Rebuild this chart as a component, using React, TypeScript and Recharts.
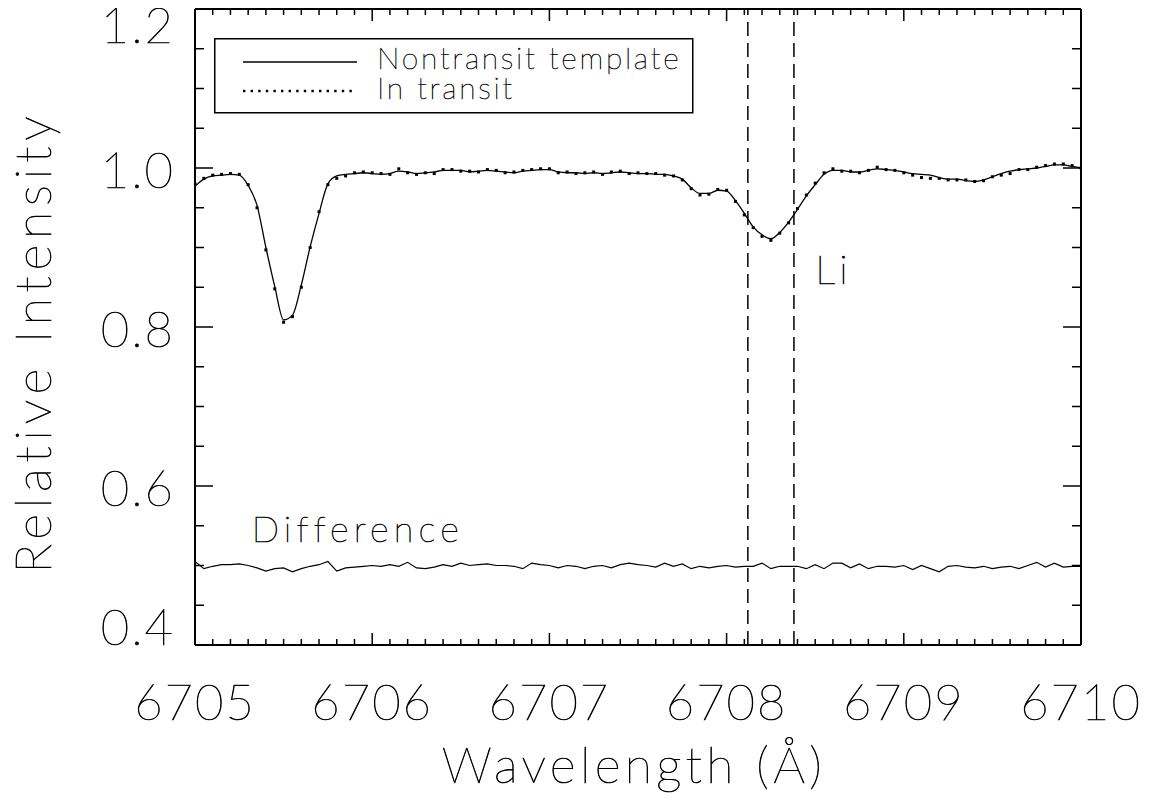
import {
  ComposedChart,
  Line,
  XAxis,
  YAxis,
  ReferenceLine,
  ReferenceDot,
  Legend,
  Label,
} from "recharts";

// wavelength grid (Angstrom)
const wavelength = [
  6705.0, 6705.05, 6705.1, 6705.15, 6705.2, 6705.25, 6705.3, 6705.35, 6705.4, 6705.45,
  6705.5, 6705.55, 6705.6, 6705.65, 6705.7, 6705.75, 6705.8, 6705.85, 6705.9, 6705.95,
  6706.0, 6706.05, 6706.1, 6706.15, 6706.2, 6706.25, 6706.3, 6706.35, 6706.4, 6706.45,
  6706.5, 6706.55, 6706.6, 6706.65, 6706.7, 6706.75, 6706.8, 6706.85, 6706.9, 6706.95,
  6707.0, 6707.05, 6707.1, 6707.15, 6707.2, 6707.25, 6707.3, 6707.35, 6707.4, 6707.45,
  6707.5, 6707.55, 6707.6, 6707.65, 6707.7, 6707.75, 6707.8, 6707.85, 6707.9, 6707.95,
  6708.0, 6708.05, 6708.1, 6708.15, 6708.2, 6708.25, 6708.3, 6708.35, 6708.4, 6708.45,
  6708.5, 6708.55, 6708.6, 6708.65, 6708.7, 6708.75, 6708.8, 6708.85, 6708.9, 6708.95,
  6709.0, 6709.05, 6709.1, 6709.15, 6709.2, 6709.25, 6709.3, 6709.35, 6709.4, 6709.45,
  6709.5, 6709.55, 6709.6, 6709.65, 6709.7, 6709.75, 6709.8, 6709.85, 6709.9, 6709.95,
  6710.0,
];

// nontransit template (solid)
const template = [
  0.977, 0.986, 0.99, 0.991, 0.992, 0.991, 0.978, 0.953, 0.9, 0.851,
  0.809, 0.815, 0.853, 0.901, 0.943, 0.98, 0.99, 0.992, 0.993, 0.994,
  0.993, 0.992, 0.993, 0.996, 0.995, 0.993, 0.994, 0.995, 0.997, 0.997,
  0.997, 0.995, 0.996, 0.997, 0.996, 0.995, 0.994, 0.996, 0.997, 0.998,
  0.998, 0.995, 0.994, 0.994, 0.993, 0.994, 0.993, 0.994, 0.995, 0.994,
  0.993, 0.993, 0.992, 0.992, 0.99, 0.986, 0.975, 0.968, 0.968, 0.972,
  0.971, 0.959, 0.943, 0.926, 0.916, 0.911, 0.919, 0.932, 0.948, 0.965,
  0.979, 0.992, 0.997, 0.997, 0.995, 0.995, 0.997, 0.999, 0.998, 0.997,
  0.995, 0.993, 0.992, 0.991, 0.988, 0.986, 0.986, 0.984, 0.983, 0.985,
  0.989, 0.993, 0.996, 0.998, 0.999, 1.0, 1.002, 1.004, 1.004, 1.002,
  1.0,
];

// in transit (dotted)
const inTransit = [
  0.98, 0.987, 0.991, 0.992, 0.993, 0.992, 0.979, 0.95, 0.897, 0.848,
  0.806, 0.813, 0.85, 0.9, 0.945, 0.979, 0.987, 0.99, 0.994, 0.995,
  0.994, 0.993, 0.992, 0.999, 0.994, 0.992, 0.994, 0.993, 0.998, 0.998,
  0.996, 0.996, 0.995, 0.998, 0.997, 0.994, 0.995, 0.997, 0.998, 0.999,
  0.999, 0.994, 0.995, 0.993, 0.994, 0.995, 0.992, 0.995, 0.996, 0.993,
  0.994, 0.993, 0.993, 0.991, 0.99, 0.985, 0.974, 0.966, 0.967, 0.973,
  0.972, 0.958, 0.941, 0.925, 0.914, 0.909, 0.918, 0.931, 0.949, 0.966,
  0.981, 0.994, 0.999, 0.996, 0.996, 0.994, 0.997, 1.001, 0.998, 0.997,
  0.994, 0.991, 0.988, 0.987, 0.987, 0.985, 0.985, 0.985, 0.983, 0.984,
  0.989, 0.991, 0.993, 0.998, 0.998, 1.001, 1.003, 1.005, 1.005, 1.003,
  1.0,
];

// difference, offset to 0.5
const difference = [
  0.505, 0.496, 0.499, 0.501, 0.501, 0.502, 0.5, 0.497, 0.493, 0.496,
  0.497, 0.492, 0.496, 0.499, 0.501, 0.505, 0.493, 0.497, 0.498, 0.499,
  0.5, 0.499, 0.501, 0.499, 0.504, 0.497, 0.496, 0.498, 0.501, 0.499,
  0.503, 0.5, 0.501, 0.502, 0.5, 0.5, 0.499, 0.496, 0.503, 0.501,
  0.5, 0.497, 0.5, 0.499, 0.496, 0.499, 0.5, 0.497, 0.501, 0.503,
  0.501, 0.5, 0.498, 0.503, 0.499, 0.502, 0.496, 0.499, 0.497, 0.499,
  0.5, 0.498, 0.499, 0.499, 0.503, 0.496, 0.499, 0.499, 0.499, 0.496,
  0.501, 0.496, 0.503, 0.503, 0.497, 0.502, 0.496, 0.499, 0.499, 0.498,
  0.5, 0.495, 0.5, 0.496, 0.492, 0.499, 0.5, 0.498, 0.497, 0.499,
  0.496, 0.498, 0.499, 0.496, 0.5, 0.504, 0.498, 0.503, 0.498, 0.499,
  0.499,
];

const xMajorTicks = [6705, 6706, 6707, 6708, 6709, 6710];
const yMajorTicks = [0.4, 0.6, 0.8, 1.0, 1.2];
const liLines = [6708.12, 6708.38];

// minor ticks: 10 per Angstrom, 4 per 0.2 in intensity
const xTicks: number[] = [];
xMajorTicks.slice(0, -1).forEach((t) => {
  for (let k = 0; k < 10; k++) xTicks.push(Math.round((t + k * 0.1) * 10) / 10);
});
xTicks.push(xMajorTicks[xMajorTicks.length - 1]);
const yTicks: number[] = [];
yMajorTicks.slice(0, -1).forEach((t) => {
  for (let k = 0; k < 4; k++) yTicks.push(Math.round((t + k * 0.05) * 100) / 100);
});
yTicks.push(yMajorTicks[yMajorTicks.length - 1]);

const rows = wavelength.map((w, i) => ({
  w,
  template: template[i],
  inTransit: inTransit[i],
  difference: difference[i],
}));

// thin vector-like lettering: hairline face with a fine black outline
const textStyle = (size: number, spacing: number, outline = 0.7) => ({
  fontFamily: "Lato, 'DejaVu Sans', sans-serif",
  fontWeight: 100,
  fontSize: size,
  letterSpacing: spacing,
  fill: "#000",
  stroke: "#000",
  strokeWidth: outline,
  opacity: 0.99,
});

const isXMajor = (v: number) => Math.abs(v - Math.round(v)) < 1e-6;
const isYMajor = (v: number) => yMajorTicks.some((t) => Math.abs(t - v) < 1e-6);

function BottomTick({ x, y, payload }: any) {
  const major = isXMajor(payload.value);
  return (
    <g>
      <line x1={x} x2={x} y1={y} y2={y - (major ? 12 : 6)} stroke="#000" strokeWidth={1.5} />
      {major && (
        <text x={x} y={y + 75} textAnchor="middle" {...textStyle(49, 2)}>
          {payload.value}
        </text>
      )}
    </g>
  );
}

function TopTick({ x, y, payload }: any) {
  const major = isXMajor(payload.value);
  return <line x1={x} x2={x} y1={y} y2={y + (major ? 12 : 6)} stroke="#000" strokeWidth={1.5} />;
}

function LeftTick({ x, y, payload }: any) {
  const v = payload.value;
  const major = isYMajor(v);
  let dy = 20;
  if (Math.abs(v - 1.2) < 1e-6) dy = 34;
  if (Math.abs(v - 0.4) < 1e-6) dy = 0;
  return (
    <g>
      <line x1={x} x2={x + (major ? 18 : 9)} y1={y} y2={y} stroke="#000" strokeWidth={1.5} />
      {major && (
        <text x={x - 20} y={y + dy} textAnchor="end" {...textStyle(49, 2)}>
          {v.toFixed(1)}
        </text>
      )}
    </g>
  );
}

function RightTick({ x, y, payload }: any) {
  const major = isYMajor(payload.value);
  return <line x1={x} x2={x - (major ? 18 : 9)} y1={y} y2={y} stroke="#000" strokeWidth={1.5} />;
}

const TransitDot = (p: any) => (
  <rect key={p.index} x={p.cx - 1.5} y={p.cy - 1.5} width={3} height={3} fill="#000" />
);

function LegendBox() {
  return (
    <svg width={480} height={76} style={{ display: "block" }}>
      <rect x={0.75} y={0.75} width={478} height={74} fill="#fff" stroke="#000" strokeWidth={1.5} />
      <line x1={29} x2={143} y1={24} y2={24} stroke="#000" strokeWidth={1.5} />
      <line x1={29} x2={143} y1={53} y2={53} stroke="#000" strokeWidth={2.4} strokeDasharray="2.4 5.2" />
      <text x={163} y={31} {...textStyle(30, 2.7, 0.5)}>
        Nontransit template
      </text>
      <text x={163} y={61} {...textStyle(30, 2.7, 0.5)}>
        In transit
      </text>
    </svg>
  );
}

export default function App() {
  return (
    <div style={{ width: 1147, height: 790, background: "#fff" }}>
      <ComposedChart width={1147} height={790} data={rows} margin={{ top: 0, right: 73, bottom: 0, left: 0 }}>
        <XAxis
          xAxisId="bottom"
          dataKey="w"
          type="number"
          domain={[6705, 6710]}
          allowDataOverflow
          ticks={xTicks}
          interval={0}
          height={153}
          tickSize={0}
          tickMargin={0}
          tickLine={false}
          tick={BottomTick}
          axisLine={{ stroke: "#000", strokeWidth: 2 }}
        >
          <Label
            content={() => (
              <text x={626} y={775} textAnchor="middle" {...textStyle(50, 4.3)}>
                Wavelength (Å)
              </text>
            )}
          />
        </XAxis>
        <XAxis
          xAxisId="top"
          dataKey="w"
          type="number"
          orientation="top"
          domain={[6705, 6710]}
          allowDataOverflow
          ticks={xTicks}
          interval={0}
          height={1}
          tickSize={0}
          tickMargin={0}
          tickLine={false}
          tick={TopTick}
          axisLine={{ stroke: "#000", strokeWidth: 2 }}
        />
        <YAxis
          yAxisId="left"
          domain={[0.4, 1.2]}
          allowDataOverflow
          ticks={yTicks}
          interval={0}
          width={187}
          tickSize={0}
          tickMargin={0}
          tickLine={false}
          tick={LeftTick}
          axisLine={{ stroke: "#000", strokeWidth: 2 }}
        >
          <Label
            content={() => (
              <text x={43} y={334} transform="rotate(-90, 43, 334)" textAnchor="middle" {...textStyle(50, 5.8)}>
                Relative Intensity
              </text>
            )}
          />
        </YAxis>
        <YAxis
          yAxisId="right"
          orientation="right"
          domain={[0.4, 1.2]}
          allowDataOverflow
          ticks={yTicks}
          interval={0}
          width={1}
          tickSize={0}
          tickMargin={0}
          tickLine={false}
          tick={RightTick}
          axisLine={{ stroke: "#000", strokeWidth: 2 }}
        />

        {liLines.map((x) => (
          <ReferenceLine key={x} xAxisId="bottom" yAxisId="left" x={x} stroke="#000" strokeWidth={1.5} strokeDasharray="14 7" />
        ))}

        <Line xAxisId="bottom" yAxisId="left" type="monotone" dataKey="template" stroke="#000" strokeWidth={1.3} dot={false} isAnimationActive={false} />
        <Line xAxisId="bottom" yAxisId="left" type="linear" dataKey="inTransit" stroke="none" dot={TransitDot} isAnimationActive={false} />
        <Line xAxisId="bottom" yAxisId="left" type="linear" dataKey="difference" stroke="#000" strokeWidth={1.2} dot={false} isAnimationActive={false} />

        <ReferenceDot
          xAxisId="bottom"
          yAxisId="left"
          x={6708.5}
          y={0.854}
          r={0}
          stroke="none"
          label={{
            content: (p: any) => (
              <text x={p.viewBox.x} y={p.viewBox.y} {...textStyle(40, 4)}>
                Li
              </text>
            ),
          }}
        />
        <ReferenceDot
          xAxisId="bottom"
          yAxisId="left"
          x={6705.32}
          y={0.5296}
          r={0}
          stroke="none"
          label={{
            content: (p: any) => (
              <text x={p.viewBox.x} y={p.viewBox.y} {...textStyle(36, 5.2, 0.6)}>
                Difference
              </text>
            ),
          }}
        />

        <Legend
          layout="vertical"
          align="center"
          verticalAlign="middle"
          content={LegendBox}
          wrapperStyle={{ left: 206, top: 30, width: 480, height: 76 }}
        />
      </ComposedChart>
    </div>
  );
}
